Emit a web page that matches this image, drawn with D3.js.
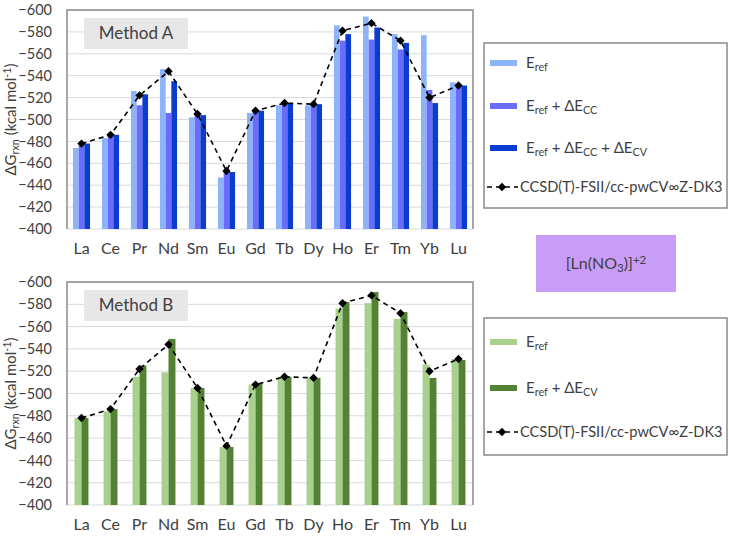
<!DOCTYPE html>
<html>
<head>
<meta charset="utf-8">
<script src="https://cdn.jsdelivr.net/npm/d3@7"></script>
<style>
  body { margin: 0; background: #fff; }
  text { font-family: Lato, "Open Sans", sans-serif; fill: #404040; }
</style>
</head>
<body>
<div class="canvas"></div>
<script>
// categories
const lanthanides = ["La", "Ce", "Pr", "Nd", "Sm", "Eu", "Gd", "Tb", "Dy", "Ho", "Er", "Tm", "Yb", "Lu"]
const yTicks = [-600, -580, -560, -540, -520, -500, -480, -460, -440, -420, -400]

// Method A
const aRef = [-474, -483, -526, -546, -502, -447, -506, -513, -513, -586, -594, -578, -577, -534]
const aRefCC = [-478, -486, -513, -506, -504, -452, -508, -515, -514, -572, -573, -564, -527, -531]
const aRefCCCV = [-478, -486, -523, -535, -504, -452, -508, -515, -514, -578, -584, -570, -515, -531]

// Method B
const bRef = [-478, -484, -515, -519, -505, -452, -508, -515, -514, -576, -581, -567, -526, -531]
const bRefCV = [-478, -486, -525, -549, -505, -452, -509, -515, -514, -582, -591, -573, -514, -530]

// CCSD(T) reference
const ccsd = [-478, -486, -522, -544, -505, -453, -508, -515, -514, -581, -588, -572, -520, -531]

const svg = d3.select(".canvas").append("svg")
    .attr("width", 729)
    .attr("height", 536)

function subText(g, x, y, parts, size) {
    // parts: [text, mode] where mode "" / "sub" / "sup"
    const t = g.append("text").attr("x", x).attr("y", y)
        .attr("font-size", size)
    parts.forEach(p => {
        const ts = t.append("tspan").text(p[0])
        if (p[1] == "sub") ts.attr("font-size", size * 0.72).attr("baseline-shift", "-25%")
        if (p[1] == "sup") ts.attr("font-size", size * 0.72).attr("baseline-shift", "45%")
    })
    return t
}

function drawPanel(top, bottom, series, colors, pad, title) {
    const g = svg.append("g")
    const left = 67, right = 473

    const y = d3.scaleLinear().domain([-400, -600]).range([bottom, top])
    const x0 = d3.scaleBand().domain(lanthanides).range([left, right])
        .paddingInner(pad).paddingOuter(pad / 2)
    const x1 = d3.scaleBand().domain(d3.range(series.length)).range([0, x0.bandwidth()])

    // gridlines
    g.selectAll(".grid").data(yTicks).enter().append("line")
        .attr("x1", left).attr("x2", right)
        .attr("y1", d => y(d)).attr("y2", d => y(d))
        .attr("stroke", "#d9d9d9").attr("stroke-width", 1)

    // y tick labels
    const yAxis = d3.axisLeft(y).tickValues(yTicks).tickSize(0).tickPadding(15)
    const ya = g.append("g").attr("transform", `translate(${left},0)`).call(yAxis)
    ya.select(".domain").remove()
    ya.selectAll("text").attr("font-size", 14.5).attr("fill", "#404040")
        .attr("font-family", "Lato, sans-serif")

    // x labels
    const xAxis = d3.axisBottom(x0).tickSize(0).tickPadding(14)
    const xa = g.append("g").attr("transform", `translate(0,${bottom})`).call(xAxis)
    xa.select(".domain").remove()
    xa.selectAll("text").attr("font-size", 16).attr("fill", "#404040")
        .attr("font-family", "Lato, sans-serif")

    // bars
    series.forEach((s, si) => {
        g.selectAll(".bar" + si).data(s).enter().append("rect")
            .attr("x", (d, i) => x0(lanthanides[i]) + x1(si))
            .attr("width", x1.bandwidth())
            .attr("y", d => y(d))
            .attr("height", d => y(-400) - y(d))
            .attr("fill", colors[si])
    })

    // frame
    g.append("path")
        .attr("d", `M${left},${bottom}V${top}H${right}V${bottom}`)
        .attr("fill", "none").attr("stroke", "#8a8a8a").attr("stroke-width", 1.5)

    // reference line
    const cx = (d, i) => x0(lanthanides[i]) + x0.bandwidth() / 2
    const line = d3.line().x(cx).y(d => y(d))
    g.append("path").datum(ccsd)
        .attr("d", line)
        .attr("fill", "none").attr("stroke", "#000").attr("stroke-width", 1.6)
        .attr("stroke-dasharray", "5,4")
    g.selectAll(".pt").data(ccsd).enter().append("path")
        .attr("d", d3.symbol().type(d3.symbolDiamond2).size(45))
        .attr("transform", (d, i) => `translate(${cx(d, i)},${y(d)})`)
        .attr("fill", "#000")

    // method box
    g.append("rect").attr("x", 84).attr("y", top + 8).attr("width", 104).attr("height", 31)
        .attr("fill", "#e7e7e7")
    g.append("text").attr("x", 136).attr("y", top + 29).attr("text-anchor", "middle")
        .attr("font-size", 17).attr("fill", "#262626").text(title)

    // y title
    const yt = subText(g, 0, 0, [["ΔG", ""], ["rxn", "sub"], [" (kcal mol", ""], ["-1", "sup"], [")", ""]], 15)
    yt.attr("text-anchor", "middle")
        .attr("transform", `translate(16,${(top + bottom) / 2}) rotate(-90)`)
}

drawPanel(10, 229, [aRef, aRefCC, aRefCCCV], ["#8db4fb", "#6a6dfb", "#0a3cd0"], 0.41, "Method A")
drawPanel(282, 505, [bRef, bRefCV], ["#a9d18e", "#548235"], 0.52, "Method B")

// legends
function legend(top, h, items, rowYs) {
    const g = svg.append("g")
    g.append("rect").attr("x", 484).attr("y", top).attr("width", 243).attr("height", h)
        .attr("fill", "#fff").attr("stroke", "#8a8a8a").attr("stroke-width", 1.5)
    items.forEach((it, i) => {
        const yy = rowYs[i]
        if (it.color) {
            g.append("rect").attr("x", 490).attr("y", yy - 3).attr("width", 27).attr("height", 6)
                .attr("fill", it.color)
            subText(g, 526, yy + 5, it.label, 15).attr("fill", "#262626")
        } else {
            g.append("line").attr("x1", 487).attr("x2", 518).attr("y1", yy).attr("y2", yy)
                .attr("stroke", "#000").attr("stroke-width", 1.6).attr("stroke-dasharray", "5,4")
            g.append("path").attr("d", d3.symbol().type(d3.symbolDiamond2).size(45))
                .attr("transform", `translate(502,${yy})`).attr("fill", "#000")
            g.append("text").attr("x", 520).attr("y", yy + 5).attr("font-size", 14.6)
                .attr("fill", "#262626").text("CCSD(T)-FSII/cc-pwCV∞Z-DK3")
        }
    })
}

legend(43, 165, [
    { color: "#8db4fb", label: [["E", ""], ["ref", "sub"]] },
    { color: "#6a6dfb", label: [["E", ""], ["ref", "sub"], [" + ΔE", ""], ["CC", "sub"]] },
    { color: "#0a3cd0", label: [["E", ""], ["ref", "sub"], [" + ΔE", ""], ["CC", "sub"], [" + ΔE", ""], ["CV", "sub"]] },
    {}
], [63, 106, 148, 187])

legend(318, 137, [
    { color: "#a9d18e", label: [["E", ""], ["ref", "sub"]] },
    { color: "#548235", label: [["E", ""], ["ref", "sub"], [" + ΔE", ""], ["CV", "sub"]] },
    {}
], [342, 388, 432])

// species label
svg.append("rect").attr("x", 536).attr("y", 235).attr("width", 140).attr("height", 57)
    .attr("fill", "#c99cf7")
subText(svg, 606, 269, [["[Ln(NO", ""], ["3", "sub"], [")]", ""], ["+2", "sup"]], 16)
    .attr("text-anchor", "middle").attr("fill", "#262626")
</script>
</body>
</html>
